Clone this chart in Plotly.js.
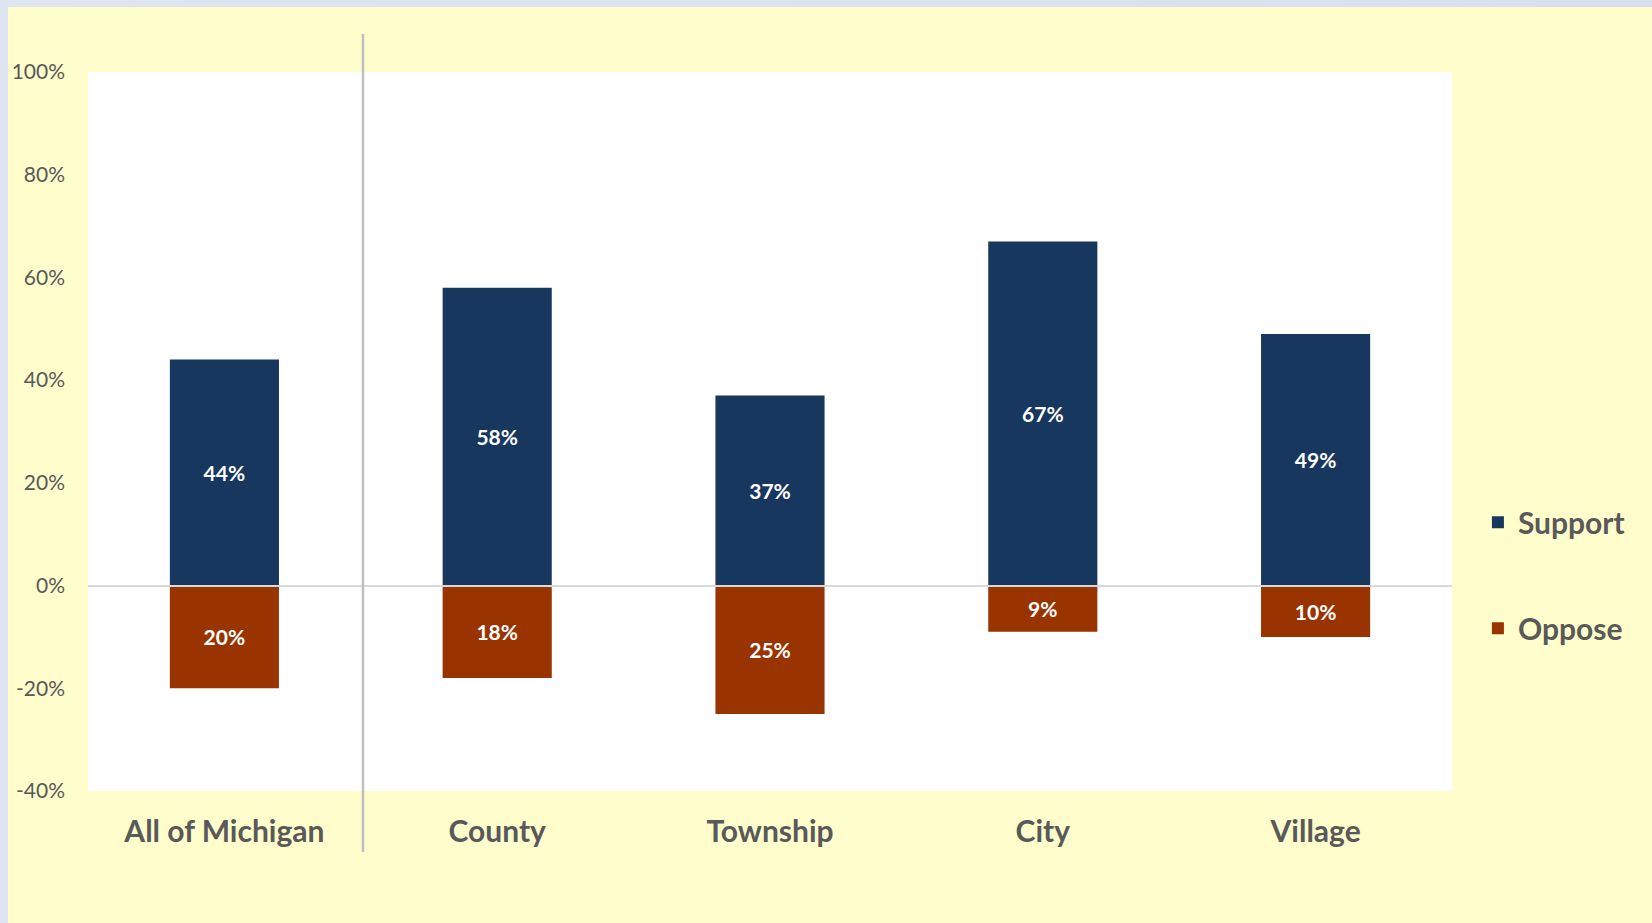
<!DOCTYPE html>
<html>
<head>
<meta charset="utf-8">
<script src="https://cdn.plot.ly/plotly-3.0.1.min.js"></script>
<style>
  html, body { margin: 0; padding: 0; width: 1652px; height: 923px; overflow: hidden;
    background: linear-gradient(90deg, #dfe6f2, #d8dfee); }
  #chart { position: absolute; left: 8px; top: 7px; width: 1644px; height: 916px; }
</style>
</head>
<body>
<div id="chart"></div>
<script>
const categories = ['All of Michigan', 'County', 'Township', 'City', 'Village'];
const supportValues = [44, 58, 37, 67, 49];
const opposeValues = [-20, -18, -25, -9, -10];
const seriesNames = ['Support', 'Oppose'];
const seriesColors = ['#17375E', '#993300'];
const yTickVals = [-40, -20, 0, 20, 40, 60, 80, 100];
const yTickText = ['-40%', '-20%', '0%', '20%', '40%', '60%', '80%', '100%'];

const FONT = 'Lato, "Open Sans", sans-serif';
const labelFont = { family: FONT, size: 21, color: '#ffffff', weight: 'bold' };

const traces = [
  {
    type: 'bar', name: seriesNames[0], x: categories, y: supportValues,
    marker: { color: seriesColors[0], line: { width: 0 } },
    text: supportValues.map(v => Math.abs(v) + '%'),
    textposition: 'inside', insidetextanchor: 'middle', constraintext: 'none',
    textfont: labelFont, hoverinfo: 'skip', legendgroup: 'a'
  },
  {
    type: 'bar', name: seriesNames[1], x: categories, y: opposeValues,
    marker: { color: seriesColors[1], line: { width: 0 } },
    text: opposeValues.map(v => Math.abs(v) + '%'),
    textposition: 'inside', insidetextanchor: 'middle', constraintext: 'none',
    textfont: labelFont, hoverinfo: 'skip', legendgroup: 'b'
  }
];

const layout = {
  width: 1644, height: 916,
  margin: { l: 80, r: 200, t: 65, b: 132 },
  paper_bgcolor: '#FFFDCC',
  plot_bgcolor: '#FFFFFF',
  barmode: 'relative',
  bargap: 0.6,
  showlegend: true,
  legend: {
    x: 1.019, xanchor: 'left', xref: 'paper',
    y: 0.3, yanchor: 'middle',
    traceorder: 'grouped', tracegroupgap: 64,
    font: { family: FONT, size: 30, color: '#595959', weight: 'bold' },
    bgcolor: 'rgba(0,0,0,0)'
  },
  xaxis: {
    type: 'category', showgrid: false, zeroline: false, showline: false,
    ticks: '', ticklabelstandoff: 20,
    tickfont: { family: FONT, size: 30, color: '#595959', weight: 'bold' },
    fixedrange: true
  },
  yaxis: {
    range: [-40, 100], showgrid: false, showline: false, ticks: '',
    tickmode: 'array', tickvals: yTickVals, ticktext: yTickText,
    tickfont: { family: FONT, size: 21, color: '#595959' },
    ticklabelstandoff: 22,
    zeroline: true, zerolinecolor: '#d9d9d9', zerolinewidth: 2,
    zerolinelayer: 'above traces',
    fixedrange: true
  },
  shapes: [
    { type: 'line', xref: 'x', yref: 'paper', x0: 0.508, x1: 0.508, y0: -0.085, y1: 1.053,
      line: { color: '#bfbfbf', width: 2.5 } }
  ]
};

Plotly.newPlot('chart', traces, layout, { displayModeBar: false, staticPlot: true });
</script>
</body>
</html>
